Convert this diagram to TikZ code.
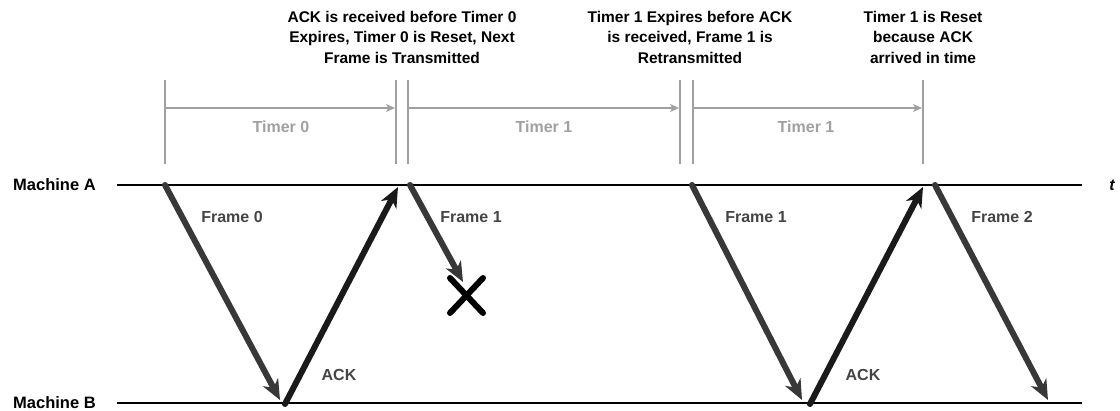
\documentclass[tikz,border=0pt]{standalone}
\usepackage{fontspec}
\setmainfont{Liberation Sans}
\usetikzlibrary{arrows.meta}
\definecolor{tgray}{HTML}{A0A0A0}
\definecolor{fgray}{HTML}{383838}
\definecolor{ackcol}{HTML}{1A1A1A}
\definecolor{lgray}{HTML}{444444}
\begin{document}
\begin{tikzpicture}[x=1pt,y=-1pt,
  note/.style={font=\fontsize{15.5}{20.5}\selectfont\bfseries, align=center, text=black, inner sep=0pt},
  timerlbl/.style={font=\fontsize{16}{19}\selectfont\bfseries, text=tgray, inner sep=0pt},
  msglbl/.style={font=\fontsize{16}{19}\selectfont\bfseries, text=lgray, inner sep=0pt},
  machine/.style={font=\fontsize{16.5}{19}\selectfont\bfseries, anchor=west, inner sep=0pt},
  axis/.style={draw=black, line width=1.6pt},
  tickline/.style={draw=tgray, line width=1.3pt},
  timer/.style={draw=tgray, line width=1.3pt, -{Stealth[length=9pt,width=8pt,inset=2.5pt]}},
  framearrow/.style={draw=fgray, line width=6pt, line cap=round, -{Stealth[length=20pt,width=17pt,inset=6pt]}},
  ackarrow/.style={draw=ackcol, line width=6pt, line cap=round, -{Stealth[length=20pt,width=17pt,inset=6pt]}},
  lost/.style={draw=black, line width=6pt, line cap=round}
]
\useasboundingbox (0,0) rectangle (1120,411);

% machines and time axes
\node[machine] (mA) at (13,185) {Machine A};
\node[machine] (mB) at (13,403) {Machine B};
\coordinate (aS) at (117,185); \coordinate (aE) at (1082,185);
\coordinate (bS) at (117,403); \coordinate (bE) at (1082,403);
\draw[axis] (aS) -- (aE);
\draw[axis] (bS) -- (bE);
\node[font=\fontsize{16}{19}\selectfont\bfseries\itshape, inner sep=0pt] (t) at (1112,185) {t};

% timer tick lines
\foreach \n/\x in {v0/165, v1/396, v2/408, v3/680, v4/693, v5/923}{
  \coordinate (\n t) at (\x,80);
  \coordinate (\n b) at (\x,164);
  \draw[tickline] (\n t) -- (\n b);
}
% timer arrows
\coordinate (t0s) at (165,108); \coordinate (t0e) at (395,108);
\coordinate (t1s) at (408,108); \coordinate (t1e) at (679,108);
\coordinate (t2s) at (693,108); \coordinate (t2e) at (922,108);
\draw[timer] (t0s) -- (t0e);
\draw[timer] (t1s) -- (t1e);
\draw[timer] (t2s) -- (t2e);
\node[timerlbl] (tl0) at (281,127) {Timer 0};
\node[timerlbl] (tl1) at (544,127) {Timer 1};
\node[timerlbl] (tl2) at (806,127) {Timer 1};

% notes
\node[note] (n1) at (402,37) {ACK is received before Timer 0\\Expires, Timer 0 is Reset, Next\\Frame is Transmitted};
\node[note] (n2) at (690,37) {Timer 1 Expires before ACK\\is received, Frame 1 is\\Retransmitted};
\node[note] (n3) at (923,37) {Timer 1 is Reset\\because ACK\\arrived in time};

% message endpoints
\coordinate (a0) at (165,185);
\coordinate (b0) at (280,400);
\coordinate (b1) at (285,404);
\coordinate (a1) at (398,187);
\coordinate (a2) at (410,185);
\coordinate (x0) at (463,282);
\coordinate (a3) at (692,185);
\coordinate (b2) at (802,400);
\coordinate (b3) at (810,404);
\coordinate (a4) at (923,187);
\coordinate (a5) at (935,185);
\coordinate (b4) at (1048,400);

\draw[framearrow] (a0) -- (b0);
\draw[ackarrow] (b1) -- (a1);
\draw[framearrow] (a2) -- (x0);
\draw[framearrow] (a3) -- (b2);
\draw[ackarrow] (b3) -- (a4);
\draw[framearrow] (a5) -- (b4);

% lost frame cross
\coordinate (xa) at (450,278); \coordinate (xb) at (483,313);
\coordinate (xc) at (483,278); \coordinate (xd) at (450,313);
\draw[lost] (xa) -- (xb);
\draw[lost] (xc) -- (xd);

% message labels
\node[msglbl] (f0) at (232,217) {Frame 0};
\node[msglbl] (f1) at (471,217) {Frame 1};
\node[msglbl] (f1b) at (756,217) {Frame 1};
\node[msglbl] (f2) at (1002,217) {Frame 2};
\node[msglbl] (k0) at (339,375) {ACK};
\node[msglbl] (k1) at (863,375) {ACK};
\end{tikzpicture}
\end{document}
